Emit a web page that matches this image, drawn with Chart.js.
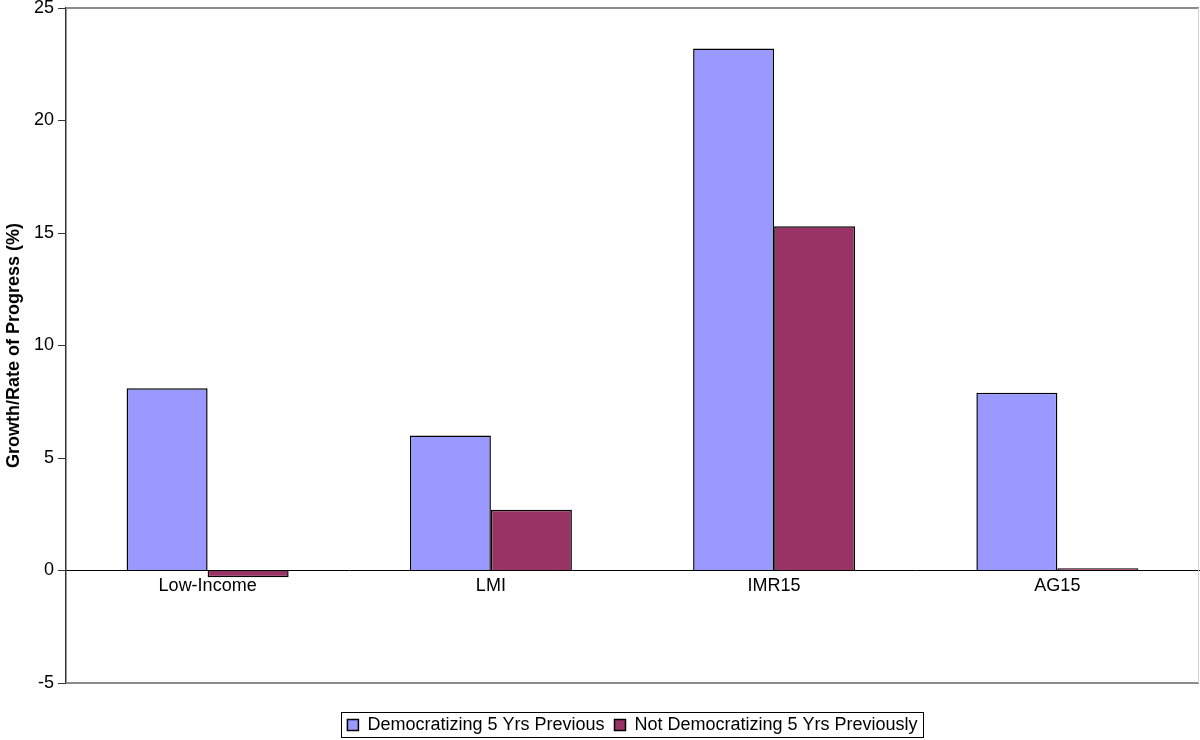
<!DOCTYPE html>
<html>
<head>
<meta charset="utf-8">
<script src="https://cdn.jsdelivr.net/npm/chart.js@4/dist/chart.umd.min.js"></script>
<style>
  html, body { margin: 0; padding: 0; background: #fff; }
  canvas { display: block; }
</style>
</head>
<body>
<canvas id="chart" width="1200" height="740"></canvas>
<script>
const categories = ["Low-Income", "LMI", "IMR15", "AG15"];
const democratizing = [8.1, 6.0, 23.2, 7.9];
const notDemocratizing = [-0.3, 2.7, 15.3, 0.1];
const seriesNames = ["Democratizing 5 Yrs Previous", "Not Democratizing 5 Yrs Previously"];
const yTicks = [-5, 0, 5, 10, 15, 20, 25];

const font = "'Liberation Sans', Arial, sans-serif";

// plot frame: grey top/bottom, light right edge
const framePlugin = {
	id: "frame",
	beforeDatasetsDraw(chart) {
		const { ctx, chartArea: a } = chart;
		ctx.save();
		ctx.strokeStyle = "#8c8c8c";
		ctx.lineWidth = 2;
		ctx.beginPath();
		ctx.moveTo(a.left, a.top);
		ctx.lineTo(a.right, a.top);
		ctx.moveTo(a.left, a.bottom);
		ctx.lineTo(a.right, a.bottom);
		ctx.stroke();
		ctx.strokeStyle = "#d0d0d0";
		ctx.lineWidth = 1;
		ctx.beginPath();
		ctx.moveTo(a.right - 0.5, a.top);
		ctx.lineTo(a.right - 0.5, a.bottom);
		ctx.stroke();
		ctx.restore();
	},
};

// box round the legend
const legendBox = {
	id: "legendBox",
	afterDraw(chart) {
		const boxes = chart.legend.legendHitBoxes;
		if (!boxes || !boxes.length) return;
		const first = boxes[0];
		const last = boxes[boxes.length - 1];
		const ctx = chart.ctx;
		ctx.save();
		ctx.strokeStyle = "#000";
		ctx.lineWidth = 1;
		ctx.strokeRect(
			Math.round(first.left) - 5.5,
			Math.round(first.top) - 3.5,
			Math.round(last.left + last.width - first.left) + 12,
			Math.round(first.height) + 7
		);
		ctx.restore();
	},
};

new Chart(document.getElementById("chart").getContext("2d"), {
	type: "bar",
	data: {
		labels: categories,
		datasets: [
			{
				label: seriesNames[0],
				data: democratizing,
				backgroundColor: "#9999ff",
				borderColor: "#000",
				borderWidth: 1.5,
			},
			{
				label: seriesNames[1],
				data: notDemocratizing,
				backgroundColor: "#993366",
				borderColor: "#000",
				borderWidth: 1.5,
			},
		],
	},
	options: {
		responsive: false,
		animation: false,
		layout: { padding: { left: 0, right: 1, top: 8, bottom: -4 } },
		datasets: {
			bar: { categoryPercentage: 0.572, barPercentage: 1 },
		},
		scales: {
			x: {
				position: { y: 0 },
				grid: { drawOnChartArea: false, drawTicks: false },
				border: { color: "#000", width: 1 },
				ticks: {
					color: "#000",
					padding: 5,
					font: { family: font, size: 18 },
				},
			},
			y: {
				min: -5,
				max: 25,
				afterBuildTicks(scale) {
					scale.ticks = yTicks.map((v) => ({ value: v }));
				},
				afterFit(scale) {
					scale.width = 66;
					scale.paddingTop = 0;
					scale.paddingBottom = 0;
				},
				grid: { drawOnChartArea: false, tickLength: 8, color: "#333" },
				border: { color: "#333", width: 1.5 },
				ticks: {
					color: "#000",
					padding: 4,
					font: { family: font, size: 18 },
				},
				title: {
					display: true,
					text: "Growth/Rate of Progress (%)",
					color: "#000",
					padding: { top: 3, bottom: 0 },
					font: { family: font, size: 18, weight: "bold" },
				},
			},
		},
		plugins: {
			legend: {
				position: "bottom",
				fullSize: false,
				title: {
					display: true,
					text: " ",
					padding: { top: 5, bottom: 6 },
					font: { size: 10 },
				},
				labels: {
					color: "#000",
					boxWidth: 11,
					boxHeight: 11,
					padding: 10,
					font: { family: font, size: 18 },
				},
			},
			tooltip: { enabled: false },
		},
	},
	plugins: [framePlugin, legendBox],
});
</script>
</body>
</html>
